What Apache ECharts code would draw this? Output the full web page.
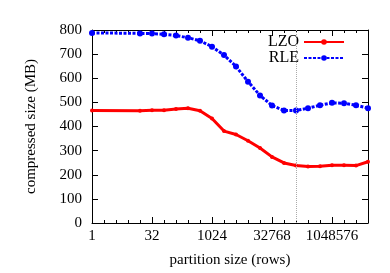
<!DOCTYPE html>
<html>
<head>
<meta charset="utf-8">
<script src="https://cdn.jsdelivr.net/npm/echarts@6/dist/echarts.min.js"></script>
<style>html,body{margin:0;padding:0;background:#fff}#c{width:390px;height:273px}</style>
</head>
<body>
<div id="c"></div>
<script>
const partitionSizes = [1, 16, 32, 64, 128, 256, 512, 1024, 2048, 4096, 8192, 16384, 32768, 65536, 131072, 262144, 524288, 1048576, 2097152, 4194304, 8388608];
const lzo = [466, 465, 467, 467, 473, 476, 465, 433, 381, 367, 341, 311, 274, 249, 238, 234, 235, 239, 239, 238, 254];
const rle = [788, 786, 785, 782, 777, 768, 755, 731, 696, 649, 586, 529, 487, 466, 466, 476, 488, 498, 496, 488, 476];
const xTickLabels = ['1', '32', '1024', '32768', '1048576'];
const yTicks = [0, 100, 200, 300, 400, 500, 600, 700, 800];
const markX = 131072;

const FONT = 'Liberation Serif';
const chart = echarts.init(document.getElementById('c'), null, {renderer: 'canvas'});
const mk = (pos, interval, len, labels, line) => ({
  type: 'log', logBase: 2, min: 1, max: 8388608, interval: interval, position: pos,
  axisLine: {show: line, lineStyle: {color: '#000', width: 1}},
  axisTick: {show: true, inside: true, length: len, lineStyle: {color: '#000', width: 1}},
  axisLabel: {show: labels, showMaxLabel: false, margin: 6, color: '#000', fontFamily: FONT, fontSize: 15,
    formatter: v => xTickLabels.includes(String(Math.round(v))) ? String(Math.round(v)) : ''},
  splitLine: {show: false},
  name: labels ? 'partition size (rows)' : '', nameLocation: 'middle', nameGap: 30,
  nameTextStyle: {color: '#000', fontFamily: FONT, fontSize: 15}
});
const mky = (pos, labels) => ({
  type: 'value', min: yTicks[0], max: yTicks[yTicks.length - 1], interval: 100, position: pos,
  axisLine: {show: true, lineStyle: {color: '#000', width: 1}},
  axisTick: {show: true, inside: true, length: 6, lineStyle: {color: '#000', width: 1}},
  axisLabel: {show: labels, margin: 10, color: '#000', fontFamily: FONT, fontSize: 15},
  splitLine: {show: false},
  name: labels ? 'compressed size (MB)' : '', nameLocation: 'middle', nameGap: 53,
  nameTextStyle: {color: '#000', fontFamily: FONT, fontSize: 15}
});
chart.setOption({
  animation: false,
  grid: {left: 92, right: 22, top: 30, bottom: 49},
  legend: {
    orient: 'vertical', right: 40, top: 29, align: 'right', itemWidth: 40, itemHeight: 7, itemGap: 0,
    textStyle: {color: '#000', fontFamily: FONT, fontSize: 16},
    data: ['LZO', 'RLE']
  },
  xAxis: [mk('bottom', 5, 6, true, true), mk('bottom', 1, 3, false, false), mk('top', 5, 6, false, true), mk('top', 1, 3, false, false)],
  yAxis: [mky('left', true), mky('right', false)],
  series: [
    {name: 'LZO', type: 'line', xAxisIndex: 0, yAxisIndex: 0, data: partitionSizes.map((x, i) => [x, lzo[i]]),
      symbol: 'circle', symbolSize: 4, itemStyle: {color: '#ff0000'}, lineStyle: {color: '#ff0000', width: 3},
      markLine: {silent: true, symbol: 'none', label: {show: false}, data: [{xAxis: markX}],
        lineStyle: {color: '#aaa', type: 'dotted', width: 1}}},
    {name: 'RLE', type: 'line', xAxisIndex: 0, yAxisIndex: 0, data: partitionSizes.map((x, i) => [x, rle[i]]),
      symbol: 'circle', symbolSize: 6, itemStyle: {color: '#0000ff'}, lineStyle: {color: '#0000ff', width: 3, type: [3, 1.5]}}
  ]
});
</script>
</body>
</html>
